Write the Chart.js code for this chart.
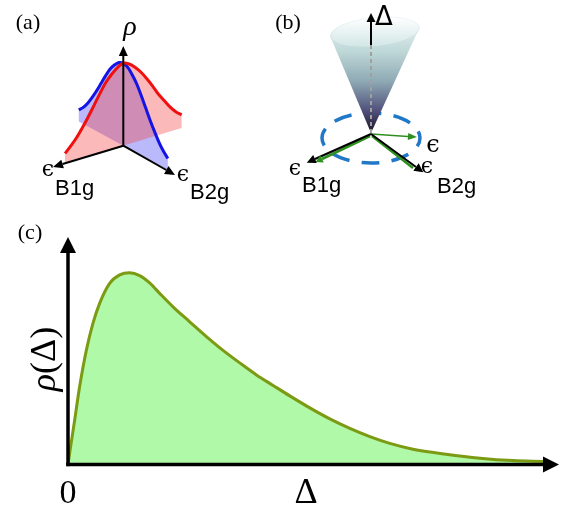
<!DOCTYPE html>
<html>
<head>
<meta charset="utf-8">
<script src="https://cdn.jsdelivr.net/npm/chart.js@4.4.1/dist/chart.umd.min.js"></script>
<style>
body{margin:0;background:#fff;}
#wrap{position:relative;width:563px;height:508px;overflow:hidden;background:#fff;}
canvas{position:absolute;}
</style>
</head>
<body>
<div id="wrap">
<canvas id="chartA" width="265" height="205" style="left:0px;top:0px"></canvas>
<canvas id="chartB" width="235" height="205" style="left:265px;top:0px"></canvas>
<canvas id="chartC" width="563" height="303" style="left:0px;top:205px"></canvas>
</div>
<script>
// (c) gap distribution rho(Delta)
var deltaVals = [0, 2.5, 6.6, 11.6, 18.3, 24.9, 31.6, 41.6, 51.6, 61.6, 71.6, 81.6, 91.6, 104.9, 121.6, 138.3, 154.9, 171.6, 188.3, 204.9, 221.6, 241.6, 261.6, 281.6, 301.6, 321.6, 344.6, 377.6, 411.6, 444.6, 474.6]
var rhoVals = [0, 17, 44, 77.6, 114, 141, 161, 181, 189.5, 191.6, 188.8, 181.5, 171, 157.6, 142.6, 127.8, 114, 101.5, 89.5, 79, 68.5, 56.5, 45.5, 36, 27.8, 21, 15.2, 10.2, 6.2, 3.8, 3]
var axisXEnd = 474.6, axisYEnd = 211.4

// (a) strain profiles along eps_B1g (red) and eps_B2g (blue)
var strainSteps = [-1, -0.9, -0.8, -0.7, -0.6, -0.5, -0.4, -0.3, -0.2, -0.1, 0, 0.1, 0.2, 0.3, 0.4, 0.5, 0.6, 0.7, 0.8, 0.9, 1]
var rhoB1g = [0.16, 0.22, 0.30, 0.40, 0.50, 0.62, 0.73, 0.83, 0.91, 0.97, 1.00, 0.97, 0.91, 0.83, 0.72, 0.60, 0.48, 0.37, 0.27, 0.19, 0.12]
var rhoB2g = [0.14, 0.20, 0.28, 0.38, 0.49, 0.61, 0.73, 0.84, 0.92, 0.98, 1.00, 0.98, 0.92, 0.84, 0.73, 0.61, 0.49, 0.38, 0.28, 0.20, 0.14]

// projection of panel (a), page pixels
var originA = {x: 123.3, y: 145.7}
var dirB1gA = {x: -58.3, y: 17.6}
var dirB2gA = {x: 44.5, y: 24.3}
var heightA = 82.4
function projA(u, h, dir) {
  return {x: originA.x + u * dir.x, y: originA.y + u * dir.y - h * heightA}
}

// panel (b) geometry, page pixels
var originB = {x: 371, y: 134}
var coneTop = {x: 375, y: 32, rx: 45, ry: 15}
var ringB = {x: 371, y: 138, rx: 49, ry: 25}

var serif = '"Liberation Serif", "Times New Roman", serif'
var sans = '"Liberation Sans", Arial, sans-serif'
var epsFont = '"DejaVu Serif"'

var arrowPlugin = {
  id: 'arrows',
  afterDatasetsDraw: function(chart) {
    var ctx = chart.ctx
    var ds = chart.data.datasets
    for (var i = ds.length - 1; i >= 0; i--) {
      if (!ds[i].head) continue
      var pts = chart.getDatasetMeta(i).data
      var a = pts[pts.length - 2], b = pts[pts.length - 1]
      var dx = b.x - a.x, dy = b.y - a.y, len = Math.hypot(dx, dy)
      var ux = dx / len, uy = dy / len
      var L = ds[i].head[0], W = ds[i].head[1]
      ctx.save()
      ctx.fillStyle = ds[i].borderColor
      ctx.beginPath()
      ctx.moveTo(b.x + ux * L, b.y + uy * L)
      ctx.lineTo(b.x - uy * W, b.y + ux * W)
      ctx.lineTo(b.x + uy * W, b.y - ux * W)
      ctx.closePath()
      ctx.fill()
      ctx.restore()
    }
  }
}

var textPlugin = {
  id: 'texts',
  afterDraw: function(chart, args, opts) {
    var ctx = chart.ctx
    ;(opts.items || []).forEach(function(it) {
      ctx.save()
      ctx.translate(it.x, it.y)
      if (it.rot) ctx.rotate(it.rot)
      ctx.fillStyle = it.color || '#000'
      ctx.textBaseline = 'alphabetic'
      ctx.textAlign = 'left'
      var parts = it.parts || [[it.text, it.font]]
      var w = 0
      parts.forEach(function(p) { ctx.font = p[1]; w += ctx.measureText(p[0]).width })
      var x = it.align === 'left' ? 0 : -w / 2
      parts.forEach(function(p) { ctx.font = p[1]; ctx.fillText(p[0], x, 0); x += ctx.measureText(p[0]).width })
      ctx.restore()
    })
  }
}

// cone + dashed ring of panel (b)
var conePlugin = {
  id: 'cone',
  beforeDatasetsDraw: function(chart) {
    var ctx = chart.ctx, xs = chart.scales.x, ys = chart.scales.y
    var px = function(v) { return xs.getPixelForValue(v) }
    var py = function(v) { return ys.getPixelForValue(v) }
    ctx.save()
    ctx.strokeStyle = '#2178c6'
    ctx.lineWidth = 3.5
    ctx.setLineDash([18, 12])
    ctx.lineDashOffset = 9
    ctx.beginPath()
    ctx.ellipse(px(ringB.x), py(ringB.y), ringB.rx, ringB.ry, 0, 0, Math.PI * 2)
    ctx.stroke()
    ctx.setLineDash([])
    var g = ctx.createLinearGradient(0, py(18), 0, py(134))
    g.addColorStop(0, '#eef6f6')
    g.addColorStop(0.3, '#bcd6d6')
    g.addColorStop(0.55, '#8ea8b4')
    g.addColorStop(0.8, '#50507a')
    g.addColorStop(1, '#181022')
    ctx.fillStyle = g
    ctx.beginPath()
    ctx.moveTo(px(330.5), py(37))
    ctx.lineTo(px(originB.x), py(133))
    ctx.lineTo(px(419.5), py(27.5))
    ctx.closePath()
    ctx.fill()
    ctx.beginPath()
    ctx.ellipse(px(coneTop.x), py(coneTop.y), coneTop.rx, coneTop.ry, -0.1, 0, Math.PI * 2)
    ctx.fill()
    var g2 = ctx.createLinearGradient(0, py(17), 0, py(47))
    g2.addColorStop(0, '#ffffff')
    g2.addColorStop(1, '#d2e6e6')
    ctx.fillStyle = g2
    ctx.beginPath()
    ctx.ellipse(px(coneTop.x), py(coneTop.y), coneTop.rx - 1, coneTop.ry - 1, -0.1, 0, Math.PI * 2)
    ctx.fill()
    ctx.restore()
  }
}

function baseOptions(xr, yr, rev, pad, items) {
  return {
    responsive: false,
    animation: false,
    events: [],
    layout: {padding: pad},
    elements: {point: {radius: 0}, line: {tension: 0}},
    datasets: {line: {clip: false}},
    scales: {
      x: {type: 'linear', display: false, min: xr[0], max: xr[1]},
      y: {type: 'linear', display: false, min: yr[0], max: yr[1], reverse: rev}
    },
    plugins: {legend: {display: false}, tooltip: {enabled: false}, texts: {items: items}}
  }
}

function seg(p, q, color, width, extra) {
  var d = {data: [p, q], borderColor: color, borderWidth: width, fill: false, clip: false}
  for (var k in extra) d[k] = extra[k]
  return d
}

// ---------- panel (a)
var redCurve = strainSteps.map(function(u, i) { return projA(u, rhoB1g[i], dirB1gA) })
var blueCurve = strainSteps.map(function(u, i) { return projA(u, rhoB2g[i], dirB2gA) })
var redShape = redCurve.concat([projA(1, 0, dirB1gA), projA(-1, 0, dirB1gA)])
var blueShape = blueCurve.concat([projA(1, 0, dirB2gA), projA(-1, 0, dirB2gA)])

new Chart(document.getElementById('chartA'), {
  type: 'line',
  data: {datasets: [
    seg(originA, {x: 123.3, y: 56}, '#000', 2, {head: [10, 4.5]}),
    seg(originA, {x: 62.6, y: 164}, '#000', 2, {head: [10, 4.5]}),
    seg(originA, {x: 166.3, y: 170}, '#000', 2, {head: [10, 4.5]}),
    {data: redCurve, borderColor: '#f01010', borderWidth: 3, tension: 0.3, fill: false, clip: false},
    {data: blueCurve, borderColor: '#1414e6', borderWidth: 3, tension: 0.3, fill: false, clip: false},
    {data: redShape, borderWidth: 0, borderColor: 'rgba(0,0,0,0)', backgroundColor: 'rgba(245,70,70,0.38)', fill: 'shape', clip: false},
    {data: blueShape, borderWidth: 0, borderColor: 'rgba(0,0,0,0)', backgroundColor: 'rgba(70,70,245,0.38)', fill: 'shape', clip: false}
  ]},
  options: baseOptions([0, 265], [0, 205], true, 0, [
    {text: '(a)', font: '22px ' + serif, x: 28, y: 29},
    {text: 'ρ', font: 'italic 28px ' + serif, x: 130, y: 35},
    {text: 'ϵ', font: '22px ' + epsFont, x: 48, y: 176},
    {text: 'B1g', font: '22px ' + sans, x: 55, y: 195, align: 'left'},
    {text: 'ϵ', font: '22px ' + epsFont, x: 183, y: 181},
    {text: 'B2g', font: '22px ' + sans, x: 190, y: 199, align: 'left'}
  ]),
  plugins: [arrowPlugin, textPlugin]
})

// ---------- panel (b)
var green = '#2f8f1f'
new Chart(document.getElementById('chartB'), {
  type: 'line',
  data: {datasets: [
    seg({x: 371, y: 45}, {x: 371, y: 22}, '#000', 2, {head: [9, 4.5]}),
    seg({x: 371, y: 133}, {x: 371, y: 45}, '#a0a0a0', 2, {borderDash: [4, 3]}),
    seg(originB, {x: 315, y: 159}, '#000', 2, {head: [9, 4.5]}),
    seg(originB, {x: 416, y: 167}, '#000', 2, {head: [9, 4.5]}),
    seg(originB, {x: 408, y: 136.5}, green, 1.5, {head: [9, 3.5]}),
    seg({x: 370, y: 136}, {x: 322, y: 159}, green, 2.5, {head: [7, 4]}),
    seg({x: 372, y: 136}, {x: 413, y: 168}, green, 2.5, {})
  ]},
  options: baseOptions([265, 500], [0, 205], true, 0, [
    {text: '(b)', font: '22px ' + serif, x: 23, y: 29},
    {text: 'Δ', font: '26px "DejaVu Sans"', x: 119, y: 25},
    {text: 'ϵ', font: '24px ' + epsFont, x: 168, y: 152},
    {text: 'ϵ', font: '22px ' + epsFont, x: 30, y: 175},
    {text: 'B1g', font: '22px ' + sans, x: 37, y: 192, align: 'left'},
    {text: 'ϵ', font: '22px ' + epsFont, x: 162, y: 173},
    {text: 'B2g', font: '22px ' + sans, x: 172, y: 193, align: 'left'}
  ]),
  plugins: [conePlugin, arrowPlugin, textPlugin]
})

// ---------- panel (c)
var curveC = deltaVals.map(function(d, i) { return {x: d, y: rhoVals[i]} })
new Chart(document.getElementById('chartC'), {
  type: 'line',
  data: {datasets: [
    seg({x: 0, y: 0}, {x: 0, y: axisYEnd}, '#000', 3.5, {head: [16, 8], borderCapStyle: 'square'}),
    seg({x: 0, y: 0}, {x: axisXEnd, y: 0}, '#000', 3.5, {head: [16, 8], borderCapStyle: 'square'}),
    {data: curveC, borderColor: '#7c9a12', borderWidth: 3, backgroundColor: '#b0f9a8',
     fill: 'origin', cubicInterpolationMode: 'monotone', clip: false}
  ]},
  options: baseOptions([0, 490.6], [0, 226.4], false, {left: 68, right: 4, top: 33, bottom: 43.6}, [
    {text: '(c)', font: '22px ' + serif, x: 30, y: 34},
    {text: '0', font: '34px ' + serif, x: 68, y: 298},
    {text: 'Δ', font: '36px ' + serif, x: 306, y: 298},
    {parts: [['ρ', 'italic 36px ' + serif], ['(Δ)', '36px ' + serif]], x: 55, y: 154, rot: -Math.PI / 2}
  ]),
  plugins: [arrowPlugin, textPlugin]
})
</script>
</body>
</html>
